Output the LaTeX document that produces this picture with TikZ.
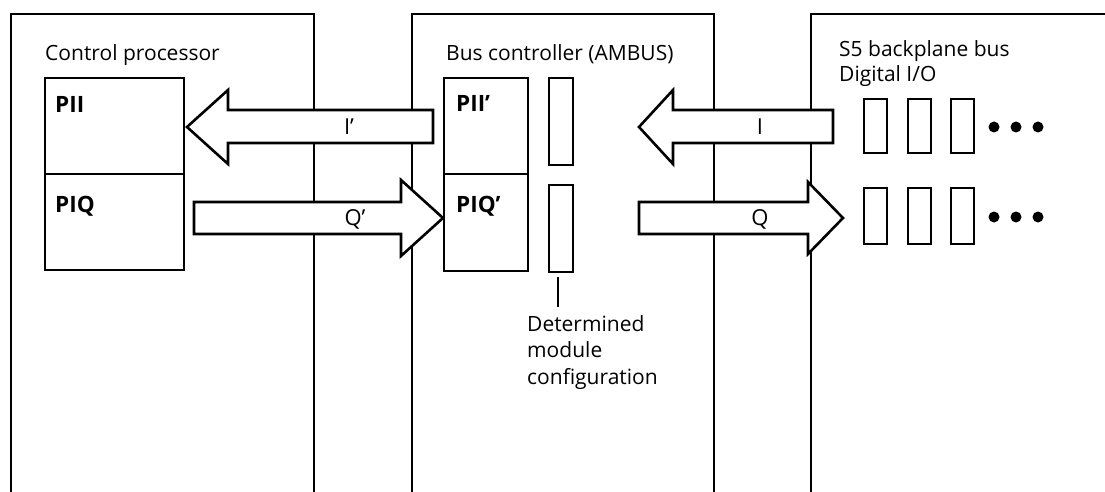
\documentclass[tikz,border=0pt]{standalone}
\usepackage{fontspec}
\setmainfont{Open Sans}
\begin{document}
\begin{tikzpicture}[x=1pt,y=-1pt,
  panel/.style={draw, line width=2.6pt},
  box/.style={draw, fill=white, inner sep=0pt, line width=2.6pt},
  blockarrow/.style={draw, fill=white, line width=2.6pt, line join=miter},
  txt/.style={inner sep=0pt, anchor=base west, font=\fontsize{21}{26.5}\selectfont},
  bold/.style={inner sep=0pt, anchor=base west, font=\fontsize{22.5}{26}\selectfont\bfseries},
  alabel/.style={inner sep=0pt, font=\fontsize{22}{26}\selectfont},
  dot/.style={fill=black, circle, inner sep=0pt, minimum size=11pt}
]
\useasboundingbox (0,0) rectangle (1105,492);

% panels
\draw[panel] (11,492) -- (11,14) -- (314,14) -- (314,492);
\draw[panel] (412,492) -- (412,14) -- (714,14) -- (714,492);
\draw[panel] (811,492) -- (811,14) -- (1105,14);

% titles
\node[txt] (cpt) at (45,61) {Control processor};
\node[txt] (bct) at (446,61) {Bus controller (AMBUS)};
\node[txt] (s5t) at (839,57) {S5 backplane bus};
\node[txt] (dio) at (839,82) {Digital I/O};

% control processor boxes
\node[box, minimum width=139pt, minimum height=96pt] (pii) at (114.5,126) {};
\node[box, minimum width=139pt, minimum height=96pt] (piq) at (114.5,222) {};
\node[bold] (piit) at (55,113) {PII};
\node[bold] (piqt) at (55,212) {PIQ};

% bus controller boxes
\node[box, minimum width=84pt, minimum height=96pt] (piip) at (486,126) {};
\node[box, minimum width=84pt, minimum height=97pt] (piqp) at (486,222.5) {};
\node[bold] (piipt) at (456,112) {PII’};
\node[bold] (piqpt) at (456,212) {PIQ’};
\node[box, minimum width=24pt, minimum height=87pt] (cfgI) at (561,121.5) {};
\node[box, minimum width=24pt, minimum height=87pt] (cfgQ) at (561,228.5) {};

% configuration label
\node[txt] (cfg1) at (527,331) {Determined};
\node[txt] (cfg2) at (527,357.5) {module};
\node[txt] (cfg3) at (527,384) {configuration};
\coordinate (cfgend) at (558,307);
\draw[line width=2.6pt] ([xshift=-3pt,yshift=-4pt]cfgQ.south) -- (cfgend);

% I' arrow
\draw[blockarrow] (187,127) -- (228,90) -- (228,110) -- (433,110) -- (433,143) -- (228,143) -- (228,164) -- cycle;
\node[alabel] (lIp) at (349,127) {I’};
% Q' arrow
\draw[blockarrow] (194,202) -- (401,202) -- (401,180) -- (443,218) -- (401,256) -- (401,234) -- (194,234) -- cycle;
\node[alabel] (lQp) at (355,219) {Q’};
% I arrow
\draw[blockarrow] (639,127) -- (673,90) -- (673,110) -- (833,110) -- (833,143) -- (673,143) -- (673,164) -- cycle;
\node[alabel] (lI) at (760,127) {I};
% Q arrow
\draw[blockarrow] (639,202) -- (808,202) -- (808,182) -- (843,218) -- (808,254) -- (808,234) -- (639,234) -- cycle;
\node[alabel] (lQ) at (760,219) {Q};

% digital I/O modules
\foreach \i/\x in {1/875.5,2/919.5,3/962.5}{
  \node[box, minimum width=23pt, minimum height=54pt] (in\i) at (\x,126) {};
  \node[box, minimum width=23pt, minimum height=56pt] (out\i) at (\x,216) {};
}
\foreach \i/\x in {1/994,2/1016,3/1038}{
  \node[dot] (di\i) at (\x,127) {};
  \node[dot] (do\i) at (\x,217) {};
}
\end{tikzpicture}
\end{document}
